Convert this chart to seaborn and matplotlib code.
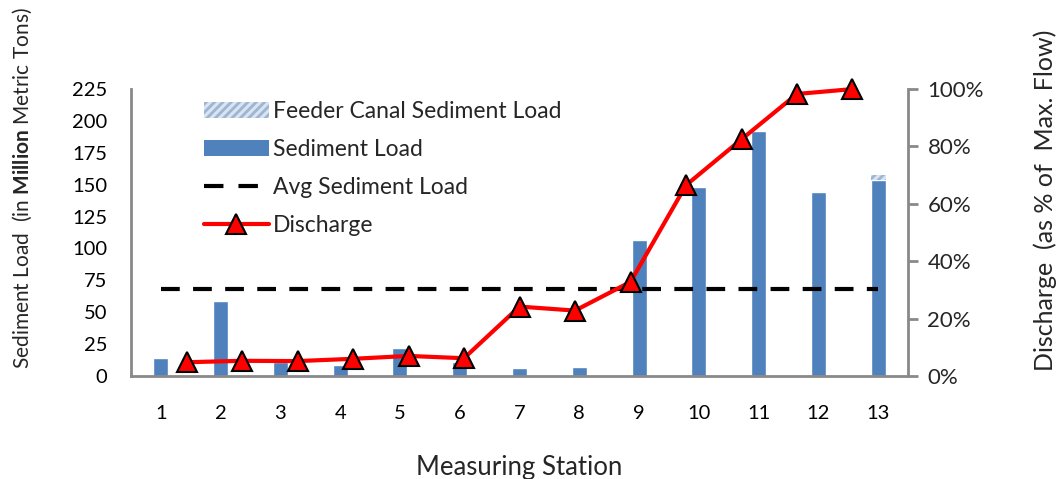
import matplotlib
matplotlib.use("Agg")
import matplotlib.pyplot as plt
from matplotlib.patches import Patch
from matplotlib.lines import Line2D
import seaborn as sns
import pandas as pd

stations = ["1", "2", "3", "4", "5", "6", "7", "8", "9", "10", "11", "12", "13"]
sediment_load = [14, 59, 11, 9, 22, 11, 6, 7, 107, 148, 192, 144, 154]
feeder_load = [0, 0, 0, 0, 0, 0, 0, 0, 0, 0, 0, 0, 4]
discharge_pct = [4.8, 5.3, 5.2, 6.0, 7.0, 6.2, 24.2, 22.8, 32.8, 66.5, 82.5, 98.3, 100.0]
avg_sediment = 68

sns.set_theme(style="white")
plt.rcParams["font.family"] = ["Lato", "DejaVu Sans"]
plt.rcParams["mathtext.fontset"] = "custom"
plt.rcParams["mathtext.bf"] = "Lato:bold"
plt.rcParams["mathtext.rm"] = "Lato"

BLUE = "#4F81BD"
GREY = "#898989"
AVG_DASH = (4.5, 3.2)

fig = plt.figure(figsize=(10.6, 4.79), dpi=100)
ax = fig.add_axes([0.1236, 0.215, 0.733, 0.599])

df = pd.DataFrame({"station": stations, "load": sediment_load, "feeder": feeder_load})
sns.barplot(data=df, x="station", y="load", color=BLUE, width=0.25,
            saturation=1, ax=ax, zorder=2)
# feeder canal contribution stacked on top of the main load
plt.rcParams["hatch.linewidth"] = 2.0
ax.bar(range(len(stations)), feeder_load, bottom=sediment_load, width=0.25,
       facecolor="#D9E4F1", edgecolor="#9DB5D3", hatch="////", linewidth=0, zorder=2)

ax.plot([0, len(stations) - 1], [avg_sediment, avg_sediment], color="black",
        lw=3, dashes=AVG_DASH, zorder=3)

ax.set_xlim(-0.5, len(stations) - 0.5)
ax.set_ylim(0, 225)
ax.set_yticks(range(0, 226, 25))
ax.tick_params(axis="both", length=0, labelsize=14.5, colors="black")
ax.tick_params(axis="y", pad=17)
ax.tick_params(axis="x", pad=21)
ax.set_xlabel("Measuring Station", fontsize=18.5)
ax.xaxis.set_label_coords(0.5, -0.275)
ax.set_ylabel(r"Sediment Load  (in $\mathbf{Million}$ Metric Tons)", fontsize=15,
              va="center")
ax.yaxis.set_label_coords(-0.14, 0.655)
for s in ["top", "right"]:
    ax.spines[s].set_visible(False)
for s in ["left", "bottom"]:
    ax.spines[s].set_color(GREY)
    ax.spines[s].set_linewidth(2)

# discharge on its own axes so the points sit between the bar slots
ax2 = fig.add_axes(ax.get_position(), facecolor="none")
dd = pd.DataFrame({"pos": range(1, len(stations) + 1), "discharge": discharge_pct})
sns.lineplot(data=dd, x="pos", y="discharge", color="red", lw=3, marker="^",
             markersize=14, markerfacecolor="red", markeredgecolor="black",
             markeredgewidth=1.5, ax=ax2, zorder=4, clip_on=False)
ax2.set_xlim(0, len(stations) + 1)
ax2.set_ylim(0, 100)
ax2.xaxis.set_visible(False)
ax2.yaxis.tick_right()
ax2.yaxis.set_label_position("right")
ax2.set_yticks(range(0, 101, 20))
ax2.set_yticklabels([f"{v}%" for v in range(0, 101, 20)])
ax2.tick_params(axis="y", direction="out", length=7, width=2, color=GREY,
                labelsize=16, pad=7)
ax2.set_xlabel("")
ax2.set_ylabel("Discharge  (as % of  Max. Flow)", fontsize=18, rotation=90,
               va="center")
ax2.yaxis.set_label_coords(1.176, 0.613)
for s in ["top", "left", "bottom"]:
    ax2.spines[s].set_visible(False)
ax2.spines["right"].set_color(GREY)
ax2.spines["right"].set_linewidth(2)

handles = [
    Patch(facecolor="#D9E4F1", edgecolor="#9DB5D3", hatch="////", linewidth=0),
    Patch(facecolor=BLUE, linewidth=0),
    Line2D([], [], color="black", lw=3, dashes=(4.67, 3.6)),
    Line2D([], [], color="red", lw=3, marker="^", markersize=14,
           markerfacecolor="red", markeredgecolor="black", markeredgewidth=1.5),
]
labels = ["Feeder Canal Sediment Load", "Sediment Load", "Avg Sediment Load", "Discharge"]
ax2.legend(handles, labels, loc="upper left", bbox_to_anchor=(0.067, 1.03),
           frameon=False, fontsize=16.5, handlelength=2.84, handleheight=0.7,
           labelspacing=0.74, handletextpad=0.2)

fig.savefig("out.png", dpi=100)
